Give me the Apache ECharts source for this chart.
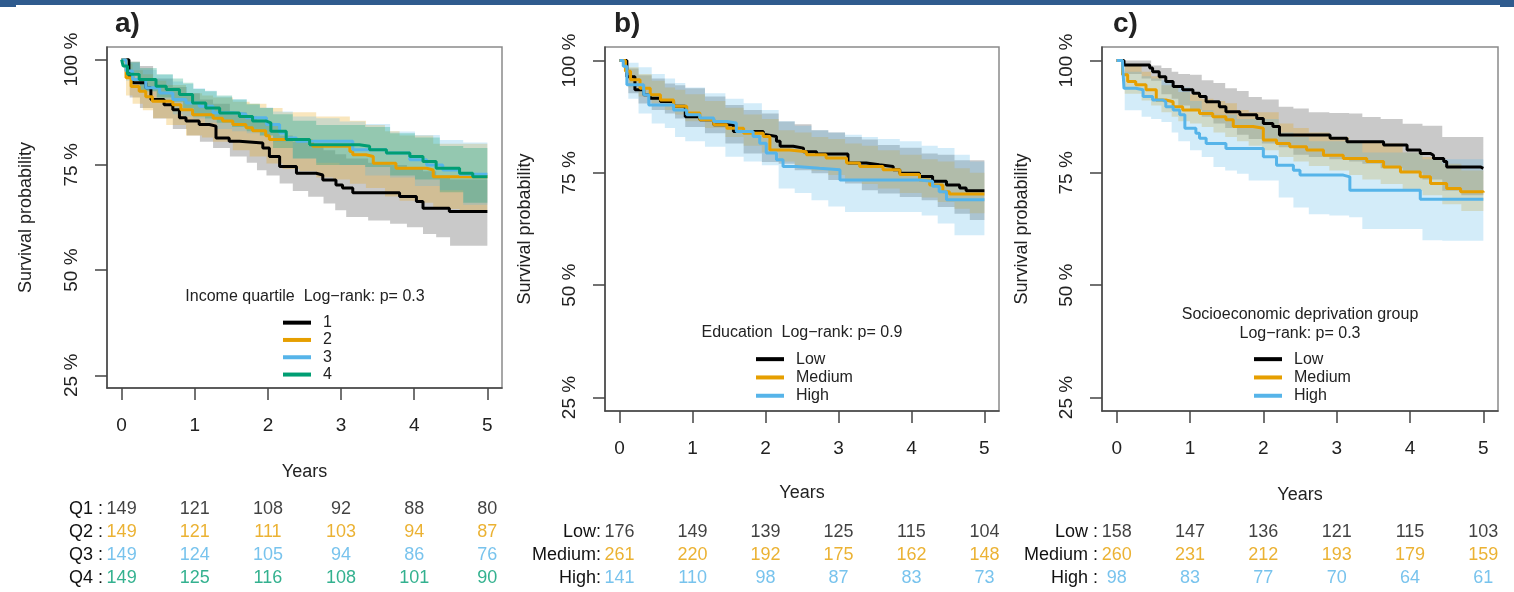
<!DOCTYPE html>
<html>
<head>
<meta charset="utf-8">
<title>Survival by income, education and deprivation</title>
<script src="https://cdn.jsdelivr.net/npm/echarts@6/dist/echarts.min.js"></script>
<style>
    html, body { margin: 0; padding: 0; background: #fff; }
    #main { width: 1514px; height: 592px; }
</style>
</head>
<body>
<div id="main"></div>
<script>
var yearTicks = [0, 1, 2, 3, 4, 5];
var pctTicks = [25, 50, 75, 100];

// a) income quartile - step curves (time in years, survival %)
var incQ1T = [0, 0.10, 0.15, 0.33, 0.40, 0.58, 0.70, 0.79, 0.88, 1.06, 1.20, 1.29, 1.47, 1.61, 1.93, 2.02, 2.16, 2.39, 2.66, 2.75, 2.93, 3.02, 3.16, 3.80, 4.03, 4.12, 4.48, 5.0];
var incQ1S = [100, 96.1, 94.5, 93.3, 90.5, 89.3, 88.1, 86.2, 85.4, 84.6, 84.2, 81.4, 80.6, 80.2, 79.0, 77.0, 74.6, 73.0, 72.6, 71.4, 70.2, 69.5, 68.4, 67.5, 66.3, 64.7, 63.9, 63.9];
var incQ2T = [0, 0.06, 0.13, 0.24, 0.33, 0.42, 0.70, 0.81, 0.97, 1.25, 1.38, 1.52, 1.70, 1.79, 1.97, 2.02, 2.34, 2.61, 3.12, 3.16, 3.34, 3.44, 3.75, 4.17, 4.26, 5.0];
var incQ2S = [100, 95.7, 93.6, 92.5, 91.2, 90.1, 89.3, 88.1, 86.9, 86.1, 85.4, 84.6, 83.8, 83.1, 81.9, 81.0, 80.6, 79.4, 78.2, 77.4, 77.0, 75.4, 74.2, 73.8, 72.2, 72.2];
var incQ3T = [0, 0.06, 0.15, 0.33, 0.52, 0.70, 0.88, 1.06, 1.25, 1.52, 1.70, 1.98, 2.16, 2.25, 2.39, 3.16, 3.62, 3.94, 4.17, 4.39, 4.62, 5.0];
var incQ3S = [100, 97.3, 95.3, 93.3, 92.1, 90.5, 89.7, 88.9, 87.4, 87.0, 86.2, 84.6, 82.6, 81.4, 80.6, 78.6, 77.8, 76.2, 75.0, 73.8, 72.8, 72.8];
var incQ4T = [0, 0.02, 0.08, 0.24, 0.47, 0.61, 0.79, 0.97, 1.15, 1.34, 1.61, 1.79, 1.98, 2.04, 2.25, 2.57, 3.25, 3.39, 3.62, 3.94, 4.12, 4.30, 4.62, 4.80, 5.0];
var incQ4S = [100, 98.5, 96.5, 95.3, 93.7, 92.9, 91.7, 89.7, 88.5, 87.3, 86.5, 85.4, 85.0, 83.0, 81.0, 79.8, 79.4, 78.6, 77.8, 77.0, 75.8, 74.2, 73.0, 72.2, 72.2];

// a) confidence bands
var incQ1BandT = [0, 0.11, 0.25, 0.43, 0.70, 0.89, 1.07, 1.25, 1.48, 1.71, 1.85, 1.98, 2.16, 2.34, 2.55, 2.76, 2.92, 3.07, 3.37, 3.67, 3.90, 4.12, 4.30, 4.49, 5.0];
var incQ1Lo = [100, 91, 88.5, 86, 83.5, 82, 80.5, 79, 77, 75.5, 73.7, 72.5, 70.6, 68.8, 67.4, 65.8, 64.2, 62.6, 61.8, 61.0, 60.2, 58.6, 57.8, 55.8, 55.8];
var incQ1Hi = [100, 99.5, 98.5, 95.5, 93.5, 92, 90.5, 89.5, 87.5, 86.5, 85.5, 84.5, 82, 80.5, 79.5, 78.5, 77.5, 76.5, 75.5, 75, 74, 73.5, 72.5, 71.5, 71.5];
var incQ2BandT = [0, 0.06, 0.15, 0.29, 0.43, 0.61, 0.88, 1.10, 1.25, 1.52, 1.75, 1.98, 2.20, 2.43, 2.66, 2.89, 3.12, 3.34, 3.60, 3.80, 4.05, 4.26, 4.62, 5.0];
var incQ2Lo = [100, 91.5, 89.5, 88, 86.1, 84.5, 82, 81.5, 80.5, 78.5, 77, 75.3, 74, 73.5, 72, 71.5, 70.5, 69.5, 67.5, 66.5, 66, 64.5, 64.2, 64.2];
var incQ2Hi = [100, 99, 97.5, 96.5, 95, 94, 92, 91.5, 91, 90, 89.5, 88.5, 87.5, 87.5, 86.5, 86.5, 85.5, 84.5, 83, 82, 82, 80, 80, 80];
var incQ34BandT = [0, 0.06, 0.25, 0.48, 0.70, 0.84, 0.98, 1.14, 1.30, 1.51, 1.71, 1.89, 2.07, 2.34, 2.66, 2.98, 3.33, 3.67, 4.01, 4.35, 4.67, 5.0];
var incQ3Lo = [100, 95, 92.5, 90, 87, 86.5, 86, 85, 83.5, 83, 82.5, 82, 80.5, 76.5, 75.5, 75, 72.5, 72, 70, 69, 65.5, 65.5];
var incQ3Hi = [100, 99.2, 97.6, 96.4, 94.8, 94.2, 93.2, 92.6, 91.2, 90.6, 89.3, 88.6, 87.7, 86.5, 86.1, 85.3, 84.7, 82.9, 82.1, 80.9, 80.3, 80.3];
var incQ4Lo = [100, 97, 92.5, 91, 90, 88.5, 86.5, 86, 85, 84, 83, 82, 79, 76.5, 75, 75, 74.5, 72.5, 71.5, 68.5, 66, 66];
var incQ4Hi = [100, 99.5, 98, 96.5, 95.5, 94.5, 93, 92.5, 91.5, 90.5, 89.5, 88.5, 87, 85.5, 84.5, 84.5, 84, 82.5, 81.5, 79.5, 79, 79];

// b) education
var eduLowT = [0, 0.10, 0.21, 0.33, 0.42, 0.56, 0.74, 0.90, 1.10, 1.29, 1.56, 1.97, 2.01, 2.15, 2.20, 2.38, 2.52, 2.70, 3.13, 3.38, 3.56, 3.75, 3.84, 4.11, 4.29, 4.48, 4.66, 4.75, 5.0];
var eduLowS = [100, 96.4, 93.5, 92.4, 91.6, 90.9, 89.8, 87.5, 86.8, 85.7, 84.2, 83.5, 83.1, 82.0, 80.9, 80.5, 79.7, 79.2, 77.2, 76.8, 76.4, 75.7, 74.9, 74.2, 73.1, 72.3, 71.6, 71.0, 71.0];
var eduMedT = [0, 0.08, 0.15, 0.28, 0.42, 0.56, 0.74, 0.92, 1.10, 1.29, 1.47, 1.70, 1.97, 2.06, 2.33, 2.56, 2.83, 3.11, 3.29, 3.61, 3.84, 4.11, 4.25, 4.43, 4.52, 5.0];
var eduMedS = [100, 97.6, 95.7, 93.8, 92.4, 91.2, 89.8, 88.3, 86.8, 85.7, 84.9, 83.8, 83.1, 80.1, 79.7, 79.0, 78.3, 77.2, 76.4, 75.7, 74.6, 73.4, 72.3, 70.8, 70.3, 70.3];
var eduHighT = [0, 0.05, 0.10, 0.33, 0.40, 0.74, 0.92, 1.10, 1.29, 1.47, 1.60, 1.83, 1.92, 2.01, 2.15, 2.24, 2.42, 2.74, 3.02, 4.11, 4.29, 4.38, 4.48, 5.0];
var eduHighS = [100, 98.7, 94.6, 92.4, 90.1, 89.0, 87.9, 87.2, 86.4, 86.1, 84.2, 83.1, 81.6, 79.4, 77.9, 76.4, 76.0, 75.7, 73.4, 73.1, 72.0, 70.8, 69.0, 69.0];

var eduBandT = [0, 0.12, 0.26, 0.44, 0.62, 0.76, 0.90, 1.17, 1.45, 1.70, 1.95, 2.18, 2.40, 2.63, 2.86, 3.09, 3.32, 3.54, 3.84, 4.14, 4.36, 4.59, 4.80, 5.0];
var eduLowLo = [100, 92.7, 90.4, 89, 88.2, 87.1, 85.2, 83.8, 81.5, 79.3, 77.4, 77, 75.6, 74.9, 73.4, 72.6, 71.1, 70.4, 69.6, 68.9, 67.4, 65.9, 64.5, 64.5];
var eduLowHi = [100, 98.2, 96.7, 96, 94.9, 94.5, 93.8, 92, 90.1, 89, 88.2, 86.4, 85.8, 84.5, 84, 83, 82.4, 81.2, 80.6, 79.3, 79, 77.8, 77.8, 77.8];
var eduMedLo = [100, 94, 92, 90.5, 89, 88, 86.5, 85, 83, 81, 79.5, 77.5, 76.5, 75.5, 74.5, 73.5, 72.5, 71.5, 70.5, 69.5, 68.5, 67, 66, 66];
var eduMedHi = [100, 98.5, 97, 95.5, 94, 93.5, 92.5, 91, 89.5, 88, 87, 84.5, 84, 83, 82.5, 81.5, 81, 80, 79, 78, 77.5, 76, 75, 75];
var eduHighLo = [100, 91.5, 88.2, 86, 85, 83, 82, 80.8, 78.6, 77.5, 76.7, 71.5, 70.5, 68.9, 67.5, 66.3, 66.3, 66.3, 66.3, 65.5, 63.7, 61.1, 61.1, 61.1];
var eduHighHi = [100, 99.5, 98.5, 97, 96, 95, 94, 92.7, 91.5, 90.5, 89, 86.5, 85.5, 84.5, 84, 83.5, 83, 82.5, 82, 81, 80.5, 79, 77.5, 77.5];

// c) socioeconomic deprivation
var depLowT = [0, 0.10, 0.45, 0.49, 0.58, 0.67, 0.77, 0.90, 1.04, 1.13, 1.22, 1.40, 1.49, 1.68, 1.91, 2.00, 2.13, 2.22, 2.91, 3.14, 3.64, 3.96, 4.14, 4.28, 4.32, 4.46, 4.50, 4.96, 5.0];
var depLowS = [100, 99.0, 98.3, 97.5, 96.4, 95.3, 94.2, 93.5, 92.7, 92.0, 90.8, 89.7, 88.6, 87.9, 87.1, 86.0, 85.3, 83.4, 82.7, 81.9, 81.2, 80.1, 79.3, 78.9, 78.2, 77.5, 76.3, 76.0, 76.0];
var depMedT = [0, 0.08, 0.15, 0.26, 0.40, 0.54, 0.67, 0.77, 0.90, 1.13, 1.31, 1.49, 1.59, 1.86, 2.00, 2.18, 2.36, 2.59, 2.82, 3.09, 3.41, 3.64, 3.87, 4.14, 4.28, 4.50, 4.69, 5.0];
var depMedS = [100, 96.8, 95.3, 94.6, 93.5, 91.2, 90.8, 89.7, 89.0, 88.2, 87.5, 86.8, 85.3, 84.9, 82.3, 81.5, 80.8, 80.1, 78.9, 78.2, 77.5, 76.3, 75.2, 74.1, 72.6, 71.5, 70.8, 70.6];
var depHighT = [0, 0.08, 0.10, 0.26, 0.36, 0.49, 0.63, 0.67, 0.77, 0.86, 0.93, 1.08, 1.13, 1.22, 1.49, 2.00, 2.18, 2.41, 2.50, 3.09, 3.18, 4.14, 5.0];
var depHighS = [100, 99.4, 93.8, 93.5, 92.0, 91.2, 90.8, 89.7, 89.0, 87.9, 84.9, 83.8, 82.7, 81.5, 80.4, 78.6, 76.7, 75.6, 74.5, 74.1, 71.1, 69.1, 69.1];

var depBandT = [0, 0.06, 0.11, 0.34, 0.47, 0.61, 0.75, 0.84, 1.0, 1.16, 1.32, 1.48, 1.64, 1.80, 1.98, 2.21, 2.41, 2.62, 2.9, 3.17, 3.35, 3.6, 3.90, 4.17, 4.44, 4.7, 5.0];
var depLowLo = [100, 100, 97, 96, 95.5, 92.5, 91.5, 90, 89, 87.5, 86, 85, 83.5, 82.5, 81.5, 80.7, 79, 78.5, 78, 77.5, 77, 76, 75, 73.5, 71, 70, 69.6];
var depLowHi = [100, 100, 100, 100, 98.9, 98.3, 97.5, 97, 96.8, 95.6, 95, 93.8, 93.2, 91.9, 91.3, 89.7, 89.3, 88.5, 88.3, 88.2, 87.4, 87, 85.9, 85.5, 83, 83, 83];
var depMedLo = [100, 100, 92.6, 91.1, 90, 88.5, 87.5, 86.5, 86, 85.2, 84, 83, 82, 81, 80, 78.5, 77.5, 76.5, 75.5, 74.5, 73.5, 72.5, 71, 70, 68, 66.5, 65];
var depMedHi = [100, 100, 99, 97.5, 96.5, 94.5, 94, 93, 92.5, 91.5, 91, 90.5, 89, 88.5, 88.5, 86, 85, 84, 83, 82, 82, 81.5, 79.5, 78.5, 77, 75.5, 75.5];
var depHighLo = [100, 100, 88.9, 87.5, 87, 86.3, 84, 82, 80, 78.5, 76.3, 75.5, 74.8, 73.3, 73.3, 69.5, 67.3, 65.8, 65.5, 65.1, 62.5, 62.5, 62.5, 60, 59.9, 59.9, 59.9];
var depHighHi = [100, 100, 97.5, 96.5, 96, 95.6, 94.5, 94, 91, 89, 88, 88, 87, 87, 87, 84, 83, 82, 82, 82, 79.5, 79.5, 79.5, 78, 78, 78, 78];

// numbers at risk
var riskRowsA = ['Q1 :', 'Q2 :', 'Q3 :', 'Q4 :'];
var riskQ1 = [149, 121, 108, 92, 88, 80];
var riskQ2 = [149, 121, 111, 103, 94, 87];
var riskQ3 = [149, 124, 105, 94, 86, 76];
var riskQ4 = [149, 125, 116, 108, 101, 90];
var riskRowsB = ['Low:', 'Medium:', 'High:'];
var riskEduLow = [176, 149, 139, 125, 115, 104];
var riskEduMed = [261, 220, 192, 175, 162, 148];
var riskEduHigh = [141, 110, 98, 87, 83, 73];
var riskRowsC = ['Low :', 'Medium :', 'High :'];
var riskDepLow = [158, 147, 136, 121, 115, 103];
var riskDepMed = [260, 231, 212, 193, 179, 159];
var riskDepHigh = [98, 83, 77, 70, 64, 61];

var FONT = '"Liberation Sans", Arial, Helvetica, sans-serif';
var TXT = '#222';
var cBlack = '#000000', cOrange = '#E69F00', cBlue = '#56B4E9', cGreen = '#009E73';
var fBlack = 'rgba(0,0,0,0.21)', fOrange = 'rgba(230,159,0,0.26)', fBlue = 'rgba(86,180,233,0.26)', fGreen = 'rgba(0,158,115,0.28)';

function stepLine(name, axis, times, surv, color) {
    return {
        name: name, type: 'line', step: 'end', xAxisIndex: axis, yAxisIndex: axis,
        data: times.map(function (t, i) { return [t, surv[i]]; }),
        symbol: 'none', showSymbol: false, silent: true, z: 5,
        lineStyle: {color: color, width: 3}, itemStyle: {color: color}
    };
}

// shaded step band between lower and upper limits
function band(axis, times, lo, hi, fill) {
    return {
        type: 'custom', xAxisIndex: axis, yAxisIndex: axis, silent: true, z: 1,
        data: [[0, 100]],
        renderItem: function (params, api) {
            var top = [], bottom = [];
            for (var i = 0; i < times.length; i++) {
                var t1 = i + 1 < times.length ? times[i + 1] : times[i];
                top.push(api.coord([times[i], hi[i]]), api.coord([t1, hi[i]]));
                bottom.push(api.coord([times[i], lo[i]]), api.coord([t1, lo[i]]));
            }
            return {type: 'polygon', shape: {points: top.concat(bottom.reverse())}, style: {fill: fill}};
        }
    };
}

function riskRow(axis, row, counts, color) {
    return {
        type: 'scatter', xAxisIndex: axis, yAxisIndex: axis, symbolSize: 1, silent: true,
        itemStyle: {color: 'rgba(0,0,0,0)'},
        data: counts.map(function (n, i) { return [yearTicks[i], row, n]; }),
        label: {
            show: true, position: 'inside', color: color, fontSize: 18, fontFamily: FONT,
            formatter: function (p) { return p.value[2]; }
        }
    };
}

function plotX(gi, nameGap) {
    return {
        gridIndex: gi, type: 'value', min: -0.2, max: 5.2,
        axisLine: {show: true, onZero: false, lineStyle: {color: '#444', width: 1.5}},
        axisTick: {show: true, length: 12, customValues: yearTicks, lineStyle: {color: '#444', width: 1.5}},
        axisLabel: {customValues: yearTicks, margin: 28, fontSize: 19, color: TXT, fontFamily: FONT},
        splitLine: {show: false},
        name: 'Years', nameLocation: 'middle', nameGap: nameGap, nameMoveOverlap: false,
        nameTextStyle: {fontSize: 18, color: TXT, fontFamily: FONT}
    };
}

function plotY(gi, nameGap) {
    return {
        gridIndex: gi, type: 'value', min: 22, max: 103,
        axisLine: {show: true, onZero: false, lineStyle: {color: '#444', width: 1.5}},
        axisTick: {show: true, length: 12, customValues: pctTicks, lineStyle: {color: '#444', width: 1.5}},
        axisLabel: {
            customValues: pctTicks, rotate: 90, margin: 35, align: 'center', verticalAlign: 'middle',
            formatter: '{value} %', fontSize: 19, color: TXT, fontFamily: FONT
        },
        splitLine: {show: false},
        name: 'Survival probability', nameLocation: 'middle', nameRotate: 90, nameGap: nameGap,
        nameMoveOverlap: false,
        nameTextStyle: {fontSize: 18, color: TXT, fontFamily: FONT}
    };
}

function tableX(gi) {
    return {gridIndex: gi, type: 'value', min: -0.2, max: 5.2, show: false};
}

function tableY(gi, rows) {
    return {
        gridIndex: gi, type: 'category', data: rows, inverse: true,
        axisLine: {show: false}, axisTick: {show: false}, splitLine: {show: false},
        axisLabel: {interval: 0, margin: 4, fontSize: 18, color: '#111', fontFamily: FONT}
    };
}

function legendAt(names, left, top, lineH) {
    return {
        data: names, orient: 'vertical', left: left, top: top, padding: 0, itemGap: 0,
        itemWidth: 28, itemHeight: 4, icon: 'rect', selectedMode: false,
        textStyle: {fontSize: 16, color: TXT, fontFamily: FONT, lineHeight: lineH, padding: [0, 0, 0, 7]}
    };
}

function txt(x, y, s, size, weight, align) {
    return {
        type: 'text', x: x, y: y, silent: true,
        style: {
            text: s, fontSize: size, fontWeight: weight || 'normal', fontFamily: FONT, fill: TXT,
            align: align || 'center', verticalAlign: 'middle', lineHeight: 19
        }
    };
}

function g(left, top, width, height, box) {
    var o = {left: left, top: top, width: width, height: height, outerBoundsMode: 'none'};
    if (box) {
        o.show = true;
        o.borderColor = '#8a8a8a';
        o.borderWidth = 1.5;
    }
    return o;
}

var option = {
    animation: false,
    backgroundColor: '#ffffff',
    textStyle: {fontFamily: FONT},
    grid: [
        g(107, 47, 395, 341, true),
        g(605, 47, 394, 364, true),
        g(1102, 47, 396, 364, true),
        g(107, 498, 395, 92, false),
        g(605, 521, 394, 69, false),
        g(1102, 521, 396, 69, false)
    ],
    xAxis: [plotX(0, 75), plotX(1, 73), plotX(2, 75), tableX(3), tableX(4), tableX(5)],
    yAxis: [plotY(0, 72), plotY(1, 71), plotY(2, 71), tableY(3, riskRowsA), tableY(4, riskRowsB), tableY(5, riskRowsC)],
    legend: [
        legendAt(['1', '2', '3', '4'], 283, 314, 17.3),
        legendAt(['Low', 'Medium', 'High'], 756, 350, 18.3),
        legendAt(['Low', 'Medium', 'High'], 1254, 350, 18.3)
    ],
    graphic: [
        {type: 'rect', silent: true, shape: {x: 0, y: 0, width: 1514, height: 5}, style: {fill: '#2f5b8e'}},
        {type: 'rect', silent: true, shape: {x: 0, y: 0, width: 16, height: 7}, style: {fill: '#2f5b8e'}},
        {type: 'rect', silent: true, shape: {x: 1500, y: 0, width: 14, height: 7}, style: {fill: '#2f5b8e'}},
        txt(115, 24, 'a)', 28, 'bold', 'left'),
        txt(614, 24, 'b)', 28, 'bold', 'left'),
        txt(1113, 24, 'c)', 28, 'bold', 'left'),
        txt(305, 297, 'Income quartile  Log\u2212rank: p= 0.3', 16),
        txt(802, 333, 'Education  Log\u2212rank: p= 0.9', 16),
        txt(1300, 324, 'Socioeconomic deprivation group\nLog\u2212rank: p= 0.3', 16)
    ],
    series: [
        band(0, incQ1BandT, incQ1Lo, incQ1Hi, fBlack),
        band(0, incQ2BandT, incQ2Lo, incQ2Hi, fOrange),
        band(0, incQ34BandT, incQ3Lo, incQ3Hi, fBlue),
        band(0, incQ34BandT, incQ4Lo, incQ4Hi, fGreen),
        stepLine('1', 0, incQ1T, incQ1S, cBlack),
        stepLine('2', 0, incQ2T, incQ2S, cOrange),
        stepLine('3', 0, incQ3T, incQ3S, cBlue),
        stepLine('4', 0, incQ4T, incQ4S, cGreen),

        band(1, eduBandT, eduLowLo, eduLowHi, fBlack),
        band(1, eduBandT, eduMedLo, eduMedHi, fOrange),
        band(1, eduBandT, eduHighLo, eduHighHi, fBlue),
        stepLine('Low', 1, eduLowT, eduLowS, cBlack),
        stepLine('Medium', 1, eduMedT, eduMedS, cOrange),
        stepLine('High', 1, eduHighT, eduHighS, cBlue),

        band(2, depBandT, depLowLo, depLowHi, fBlack),
        band(2, depBandT, depMedLo, depMedHi, fOrange),
        band(2, depBandT, depHighLo, depHighHi, fBlue),
        stepLine('Low', 2, depLowT, depLowS, cBlack),
        stepLine('Medium', 2, depMedT, depMedS, cOrange),
        stepLine('High', 2, depHighT, depHighS, cBlue),

        riskRow(3, 0, riskQ1, '#111'),
        riskRow(3, 1, riskQ2, cOrange),
        riskRow(3, 2, riskQ3, cBlue),
        riskRow(3, 3, riskQ4, cGreen),
        riskRow(4, 0, riskEduLow, '#111'),
        riskRow(4, 1, riskEduMed, cOrange),
        riskRow(4, 2, riskEduHigh, cBlue),
        riskRow(5, 0, riskDepLow, '#111'),
        riskRow(5, 1, riskDepMed, cOrange),
        riskRow(5, 2, riskDepHigh, cBlue)
    ]
};

var chart = echarts.init(document.getElementById('main'));
chart.setOption(option);
</script>
</body>
</html>
